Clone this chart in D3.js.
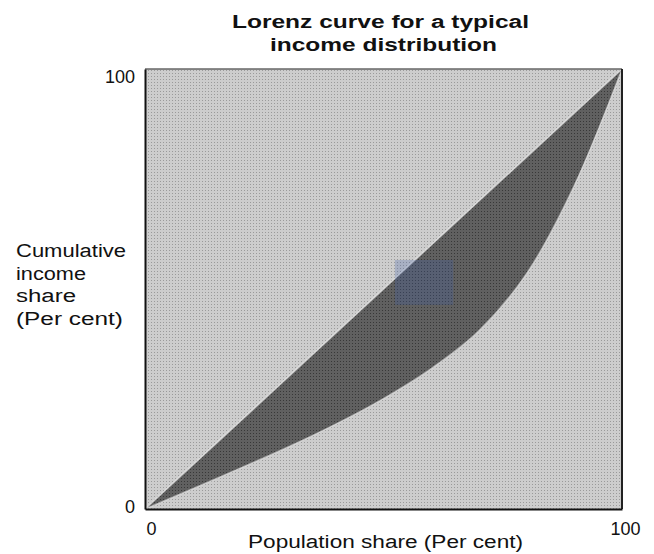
<!DOCTYPE html>
<html>
<head>
<meta charset="utf-8">
<script src="https://cdn.jsdelivr.net/npm/d3@7/dist/d3.min.js"></script>
<style>
  body { margin: 0; background: #fff; }
  text { font-family: "Liberation Sans", Arial, sans-serif; fill: #111; }
</style>
</head>
<body>
<svg width="654" height="554"></svg>
<script>
// population share (%) and cumulative income share (%)
var popShare = [0, 10, 20, 30, 40, 50, 60, 70, 80, 90, 100];
var incomeShare = [0, 4.6, 9.3, 14.1, 19.3, 25.1, 31.9, 40.5, 53.5, 73.5, 100];
var equality = [0, 100];
var tickValues = [0, 100];
var titleLines = ["Lorenz curve for a typical", "income distribution"];
var yLabelLines = ["Cumulative", "income", "share", "(Per cent)"];
var xLabel = "Population share (Per cent)";
// bluish highlight patch in the picture, in data units [x0, x1, y0, y1]
var patch = [52.4, 64.6, 46.4, 56.6];

var svg = d3.select("svg");

var plotLeft = 145, plotRight = 622, plotTop = 69, plotBottom = 509;

var x = d3.scaleLinear().domain([0, 100]).range([plotLeft, plotRight]);
var y = d3.scaleLinear().domain([0, 100]).range([plotBottom, plotTop]);

var lorenz = popShare.map(function(p, i) { return {p: p, inc: incomeShare[i]}; });

// halftone-like textures
var defs = svg.append("defs");
function stipple(id, base, dot) {
  var pat = defs.append("pattern")
      .attr("id", id)
      .attr("width", 3)
      .attr("height", 3)
      .attr("patternUnits", "userSpaceOnUse");
  pat.append("rect").attr("width", 3).attr("height", 3).attr("fill", base);
  pat.append("rect").attr("x", 1).attr("y", 1).attr("width", 1).attr("height", 1).attr("fill", dot);
}
stipple("light", "#cdcdcd", "#9a9a9a");
stipple("dark", "#606060", "#383838");

// background
svg.append("rect")
    .attr("x", x(0))
    .attr("y", y(100))
    .attr("width", x(100) - x(0))
    .attr("height", y(0) - y(100))
    .attr("fill", "url(#light)");

// area between line of equality and Lorenz curve
var area = d3.area()
    .curve(d3.curveCatmullRom)
    .x(function(d) { return x(d.p); })
    .y0(function(d) { return y(d.inc); })
    .y1(function(d) { return y(d.p); });

svg.append("path")
    .datum(lorenz)
    .attr("d", area)
    .attr("fill", "url(#dark)");

var curve = d3.line()
    .curve(d3.curveCatmullRom)
    .x(function(d) { return x(d.p); })
    .y(function(d) { return y(d.inc); });

svg.append("path")
    .datum(lorenz)
    .attr("d", curve)
    .attr("fill", "none")
    .attr("stroke", "#e6e6e6")
    .attr("stroke-opacity", 0.55)
    .attr("stroke-width", 1.5);

svg.append("line")
    .attr("x1", x(equality[0])).attr("y1", y(equality[0]))
    .attr("x2", x(equality[1])).attr("y2", y(equality[1]))
    .attr("stroke", "#eeeeee")
    .attr("stroke-opacity", 0.7)
    .attr("stroke-width", 1.5);

// blue patch
svg.append("rect")
    .attr("x", x(patch[0]))
    .attr("y", y(patch[3]))
    .attr("width", x(patch[1]) - x(patch[0]))
    .attr("height", y(patch[2]) - y(patch[3]))
    .attr("fill", "#3a5aa8")
    .attr("fill-opacity", 0.25);

// frame
svg.append("line")
    .attr("x1", x(0)).attr("y1", y(100)).attr("x2", x(100)).attr("y2", y(100))
    .attr("stroke", "#666").attr("stroke-width", 1.5);
svg.append("line")
    .attr("x1", x(100)).attr("y1", y(100)).attr("x2", x(100)).attr("y2", y(0))
    .attr("stroke", "#222").attr("stroke-width", 2);

// axes
var xAxis = svg.append("g")
    .attr("transform", "translate(0," + plotBottom + ")")
    .call(d3.axisBottom(x).tickValues(tickValues).tickSize(0).tickPadding(13));
xAxis.select(".domain").attr("stroke", "#111").attr("stroke-width", 2);
xAxis.selectAll(".tick text")
    .attr("font-size", 18)
    .attr("dx", function(d) { return d === 0 ? 6 : 3; });

var yAxis = svg.append("g")
    .attr("transform", "translate(" + plotLeft + ",0)")
    .call(d3.axisLeft(y).tickValues(tickValues).tickSize(0).tickPadding(10));
yAxis.select(".domain").attr("stroke", "#111").attr("stroke-width", 2);
yAxis.selectAll(".tick text")
    .attr("font-size", 18)
    .attr("dy", function(d) { return d === 100 ? 13 : 3; });

svg.selectAll(".tick text").attr("font-family", "Liberation Sans, Arial, sans-serif").attr("fill", "#111");

// title
var titleX = [232, 270], titleW = [297, 227], titleY = [28, 51];
svg.selectAll(".title")
    .data(titleLines)
  .enter().append("text")
    .attr("class", "title")
    .attr("x", function(d, i) { return titleX[i]; })
    .attr("y", function(d, i) { return titleY[i]; })
    .attr("font-size", 18)
    .attr("font-weight", "bold")
    .attr("textLength", function(d, i) { return titleW[i]; })
    .attr("lengthAdjust", "spacingAndGlyphs")
    .text(function(d) { return d; });

// y label
var yLabW = [110, 70, 60, 107];
svg.selectAll(".ylab")
    .data(yLabelLines)
  .enter().append("text")
    .attr("class", "ylab")
    .attr("x", 16)
    .attr("y", function(d, i) { return 257 + i * 22.5; })
    .attr("font-size", 18)
    .attr("textLength", function(d, i) { return yLabW[i]; })
    .attr("lengthAdjust", "spacingAndGlyphs")
    .text(function(d) { return d; });

// x label
svg.append("text")
    .attr("x", 248)
    .attr("y", 548)
    .attr("font-size", 18)
    .attr("textLength", 275)
    .attr("lengthAdjust", "spacingAndGlyphs")
    .text(xLabel);
</script>
</body>
</html>
